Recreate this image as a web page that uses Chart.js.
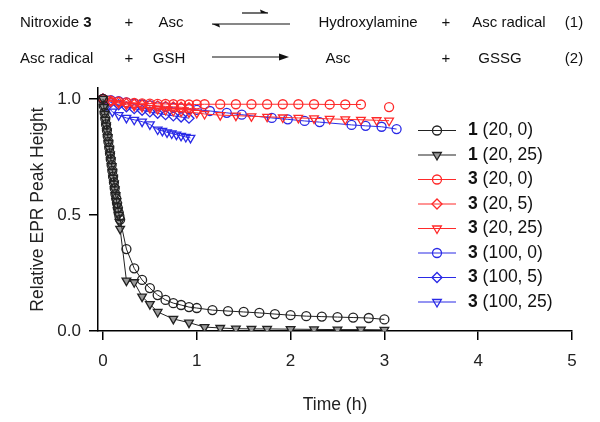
<!DOCTYPE html>
<html>

<head>
  <meta charset="UTF-8">
  <script src="https://cdn.jsdelivr.net/npm/chart.js"></script>
  <style>
    body { margin: 0; background: #fff; font-family: "Liberation Sans", Arial, sans-serif; }
    .page { position: relative; width: 600px; height: 422px; }
    .chartBox { position: absolute; left: 0; top: 0; width: 600px; height: 422px; }
    .eq { position: absolute; font-size: 15px; color: #111; white-space: nowrap; transform: translate(-50%, -50%); z-index: 2; }
    .eq.l { transform: translate(0, -50%); }
    svg.arrows { position: absolute; left: 0; top: 0; z-index: 2; }
  </style>
</head>

<body>
  <div class="page">
    <!-- reaction scheme -->
    <div class="eq l" style="left:20px;top:21px">Nitroxide <b>3</b></div>
    <div class="eq" style="left:129px;top:21px">+</div>
    <div class="eq" style="left:171px;top:21px">Asc</div>
    <div class="eq" style="left:368px;top:21px">Hydroxylamine</div>
    <div class="eq" style="left:446px;top:21px">+</div>
    <div class="eq" style="left:509px;top:21px">Asc radical</div>
    <div class="eq" style="left:574px;top:21px">(1)</div>

    <div class="eq l" style="left:20px;top:57px">Asc radical</div>
    <div class="eq" style="left:129px;top:57px">+</div>
    <div class="eq" style="left:169px;top:57px">GSH</div>
    <div class="eq" style="left:338px;top:57px">Asc</div>
    <div class="eq" style="left:446px;top:57px">+</div>
    <div class="eq" style="left:500px;top:57px">GSSG</div>
    <div class="eq" style="left:574px;top:57px">(2)</div>

    <svg class="arrows" width="600" height="80">
      <line x1="242" y1="13" x2="268" y2="13" stroke="#111" stroke-width="1.2" />
      <path d="M268 13 L260 9.5 L261 13 Z" fill="#111" />
      <line x1="212" y1="24" x2="290" y2="24" stroke="#111" stroke-width="1.2" />
      <path d="M212 24 L220 27.5 L219 24 Z" fill="#111" />
      <line x1="212" y1="57" x2="282" y2="57" stroke="#111" stroke-width="1.2" />
      <path d="M289 57 L279 53.5 L279 60.5 Z" fill="#111" />
    </svg>

    <div class="chartBox">
      <canvas id="myChart"></canvas>
    </div>
  </div>

  <script>
    // tick labels
    const xTicks = [0, 1, 2, 3, 4, 5];
    const yTicks = [0, 0.5, 1.0];

    // 1 (20, 0)
    const t1a = [0, 0.008, 0.017, 0.025, 0.033, 0.042, 0.05, 0.058, 0.067, 0.075, 0.083, 0.092, 0.1, 0.108, 0.117, 0.125, 0.133, 0.142, 0.15, 0.158, 0.167, 0.175, 0.183,
      0.25, 0.333, 0.417, 0.5, 0.583, 0.667, 0.75, 0.833, 0.917, 1.0, 1.167, 1.333, 1.5, 1.667, 1.833, 2.0, 2.167, 2.333, 2.5, 2.667, 2.833, 3.0];
    const v1a = [1.0, 0.97, 0.94, 0.915, 0.89, 0.865, 0.84, 0.815, 0.79, 0.765, 0.74, 0.715, 0.69, 0.665, 0.64, 0.615, 0.59, 0.57, 0.55, 0.53, 0.51, 0.495, 0.48,
      0.353, 0.27, 0.22, 0.185, 0.155, 0.134, 0.12, 0.112, 0.103, 0.099, 0.09, 0.086, 0.082, 0.078, 0.073, 0.068, 0.064, 0.062, 0.06, 0.058, 0.056, 0.05];

    // 1 (20, 25)
    const t1b = [0, 0.008, 0.017, 0.025, 0.033, 0.042, 0.05, 0.058, 0.067, 0.075, 0.083, 0.092, 0.1, 0.108, 0.117, 0.125, 0.133, 0.142, 0.15, 0.158, 0.167, 0.175, 0.183,
      0.25, 0.333, 0.417, 0.5, 0.583, 0.75, 0.917, 1.083, 1.25, 1.417, 1.583, 1.75, 2.0, 2.25, 2.5, 2.75, 3.0];
    const v1b = [1.0, 0.965, 0.935, 0.91, 0.885, 0.86, 0.835, 0.81, 0.785, 0.76, 0.735, 0.71, 0.685, 0.66, 0.635, 0.61, 0.585, 0.56, 0.54, 0.52, 0.5, 0.47, 0.44,
      0.217, 0.21, 0.148, 0.116, 0.082, 0.052, 0.036, 0.017, 0.013, 0.01, 0.009, 0.009, 0.008, 0.007, 0.006, 0.006, 0.005];

    // 3 (20, 0) - null marks the break before the last reading
    const t3a = [0, 0.083, 0.167, 0.25, 0.333, 0.417, 0.5, 0.583, 0.667, 0.75, 0.833, 0.917, 1.0,
      1.083, 1.25, 1.417, 1.583, 1.75, 1.917, 2.083, 2.25, 2.417, 2.583, 2.75, 2.9, 3.05];
    const v3a = [1.0, 0.993, 0.988, 0.985, 0.983, 0.981, 0.98, 0.979, 0.978, 0.977, 0.977, 0.976, 0.976,
      0.977, 0.977, 0.977, 0.977, 0.977, 0.977, 0.977, 0.977, 0.976, 0.976, 0.976, null, 0.965];

    // 3 (20, 5)
    const t3b = [0, 0.083, 0.167, 0.25, 0.333, 0.417, 0.5, 0.583, 0.667, 0.75, 0.833, 0.917];
    const v3b = [1.0, 0.99, 0.985, 0.98, 0.977, 0.974, 0.972, 0.97, 0.968, 0.966, 0.964, 0.962];

    // 3 (20, 25)
    const t3c = [0, 0.083, 0.167, 0.25, 0.333, 0.417, 0.5, 0.583, 0.667, 0.75, 0.833, 0.917, 1.0,
      1.083, 1.25, 1.417, 1.583, 1.75, 1.917, 2.083, 2.25, 2.417, 2.583, 2.75, 2.917, 3.05];
    const v3c = [1.0, 0.99, 0.982, 0.975, 0.97, 0.965, 0.96, 0.956, 0.952, 0.948, 0.945, 0.942, 0.94,
      0.935, 0.93, 0.928, 0.925, 0.923, 0.92, 0.918, 0.916, 0.914, 0.912, 0.91, 0.908, 0.906];

    // 3 (100, 0)
    const t3d = [0, 0.083, 0.167, 0.25, 0.333, 0.417, 0.5, 0.583, 0.667, 0.75, 0.833, 0.917, 1.0,
      1.14, 1.32, 1.48, 1.8, 1.97, 2.15, 2.31, 2.65, 2.8, 2.97, 3.13];
    const v3d = [1.0, 0.995, 0.99, 0.985, 0.98, 0.976, 0.972, 0.968, 0.965, 0.962, 0.959, 0.956, 0.953,
      0.948, 0.94, 0.932, 0.918, 0.912, 0.905, 0.9, 0.888, 0.884, 0.88, 0.87];

    // 3 (100, 5)
    const t3e = [0, 0.083, 0.167, 0.25, 0.333, 0.417, 0.5, 0.583, 0.667, 0.75, 0.833, 0.917];
    const v3e = [1.0, 0.985, 0.975, 0.966, 0.958, 0.951, 0.944, 0.938, 0.932, 0.927, 0.922, 0.917];

    // 3 (100, 25)
    const t3f = [0, 0.05, 0.1, 0.167, 0.25, 0.333, 0.417, 0.5, 0.583, 0.633, 0.683, 0.733, 0.783, 0.833, 0.883, 0.933];
    const v3f = [1.0, 0.965, 0.945, 0.93, 0.918, 0.91, 0.902, 0.89, 0.868, 0.862, 0.856, 0.851, 0.846, 0.841, 0.836, 0.832];

    const compounds = ['1', '1', '3', '3', '3', '3', '3', '3'];
    const conditions = ['(20, 0)', '(20, 25)', '(20, 0)', '(20, 5)', '(20, 25)', '(100, 0)', '(100, 5)', '(100, 25)'];

    const FONT = '"Liberation Sans", Arial, sans-serif';
    const BLACK = '#222222', RED = '#ff2a2a', BLUE = '#2a2ae6';

    function pts(t, v) {
      return t.map((x, i) => ({ x: x, y: v[i] }));
    }

    function series(i, t, v, color, style, fill) {
      return {
        label: compounds[i] + ' ' + conditions[i],
        data: pts(t, v),
        borderColor: color,
        borderWidth: 1,
        pointBorderColor: color,
        pointBackgroundColor: fill || 'rgba(0,0,0,0)',
        pointBorderWidth: 1.3,
        pointStyle: style === 'tri' ? 'triangle' : style,
        pointRotation: style === 'tri' ? 180 : 0,
        pointRadius: style === 'circle' ? 4.5 : 5,
        pointHoverRadius: 5,
        fill: false,
        spanGaps: false,
        tension: 0
      };
    }

    const datasets = [
      series(0, t1a, v1a, BLACK, 'circle'),
      series(1, t1b, v1b, BLACK, 'tri', '#999999'),
      series(2, t3a, v3a, RED, 'circle'),
      series(3, t3b, v3b, RED, 'rectRot'),
      series(4, t3c, v3c, RED, 'tri'),
      series(5, t3d, v3d, BLUE, 'circle'),
      series(6, t3e, v3e, BLUE, 'rectRot'),
      series(7, t3f, v3f, BLUE, 'tri')
    ];

    // legend on the right, line + marker + bold compound number
    const sideLegend = {
      id: 'sideLegend',
      afterDraw(chart) {
        const ctx = chart.ctx;
        chart.data.datasets.forEach((ds, i) => {
          const y = 130.5 + i * 24.5;
          ctx.save();
          ctx.strokeStyle = ds.borderColor;
          ctx.lineWidth = 1.2;
          ctx.beginPath();
          ctx.moveTo(418, y);
          ctx.lineTo(456, y);
          ctx.stroke();
          ctx.strokeStyle = ds.pointBorderColor;
          ctx.fillStyle = ds.pointBackgroundColor;
          ctx.lineWidth = 1.3;
          Chart.helpers.drawPoint(ctx, {
            pointStyle: ds.pointStyle, rotation: ds.pointRotation,
            radius: ds.pointRadius, borderWidth: 1.3
          }, 437, y);
          ctx.fillStyle = '#111';
          ctx.textBaseline = 'middle';
          ctx.font = 'bold 17.5px ' + FONT;
          ctx.fillText(compounds[i], 468, y);
          const w = ctx.measureText(compounds[i]).width;
          ctx.font = '17.5px ' + FONT;
          ctx.fillText(' ' + conditions[i], 468 + w, y);
          ctx.restore();
        });
      }
    };

    new Chart(document.getElementById('myChart'), {
      type: 'line',
      data: { datasets: datasets },
      options: {
        responsive: true,
        maintainAspectRatio: false,
        animation: false,
        layout: { padding: { left: 0, top: 88, right: 28, bottom: 0 } },
        plugins: {
          legend: { display: false },
          tooltip: { enabled: false }
        },
        scales: {
          x: {
            type: 'linear',
            min: -0.053,
            max: 5,
            afterBuildTicks: s => { s.ticks = xTicks.map(v => ({ value: v })); },
            afterFit: s => { s.height = 91; },
            ticks: { color: '#222', font: { family: FONT, size: 17 }, padding: 11, callback: v => String(v) },
            grid: { drawOnChartArea: false, tickLength: 9, color: '#000', lineWidth: 1.5 },
            border: { color: '#000', width: 1.5 },
            title: { display: true, text: 'Time (h)', color: '#222', font: { family: FONT, size: 17.5 }, padding: { top: 0, bottom: 6 } }
          },
          y: {
            min: 0,
            max: 1.047,
            afterBuildTicks: s => { s.ticks = yTicks.map(v => ({ value: v })); },
            afterFit: s => { s.width = 98; },
            ticks: { color: '#222', font: { family: FONT, size: 17 }, padding: 8, callback: v => v.toFixed(1) },
            grid: { drawOnChartArea: false, tickLength: 9, color: '#000', lineWidth: 1.5 },
            border: { color: '#000', width: 1.5 },
            title: { display: true, text: 'Relative EPR Peak Height', color: '#222', font: { family: FONT, size: 17.5 }, padding: { top: 28, bottom: 0 } }
          }
        }
      },
      plugins: [sideLegend]
    });
  </script>
</body>

</html>
